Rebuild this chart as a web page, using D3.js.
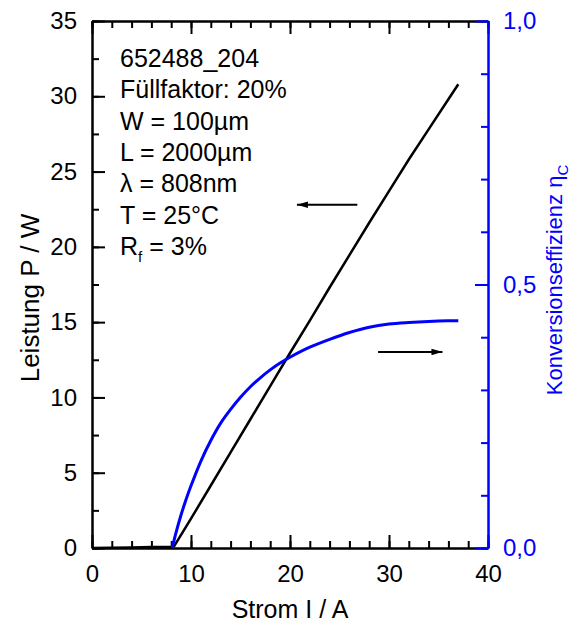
<!DOCTYPE html>
<html lang="en">
<head>
    <meta charset="UTF-8">
    <title>Leistung und Konversionseffizienz</title>
    <style>
        body { margin: 0; background: #fff; }
        text { font-family: "Liberation Sans", Arial, sans-serif; }
    </style>
</head>
<body>
    <div id="chart"></div>

    <script src="https://d3js.org/d3.v7.min.js"></script>

    <script>
        // Strom I / A and optical power P / W (black curve)
        var currentP = [0, 2, 4, 6, 8, 8.3, 10, 12, 14, 16, 18, 20, 22, 24, 26, 28, 30, 32, 34, 36, 37];
        var power    = [0, 0.02, 0.04, 0.06, 0.08, 0.12, 1.95, 4.15, 6.35, 8.55, 10.75, 12.95, 15.1, 17.3, 19.45, 21.6, 23.7, 25.8, 27.8, 29.8, 30.8];

        // Strom I / A and Konversionseffizienz (blue curve)
        var currentEta = [8.1, 8.5, 9, 9.5, 10, 11, 12, 13, 14, 15, 16, 17, 18, 19, 20, 22, 24, 26, 28, 30, 32, 34, 36, 37];
        var eta        = [0, 0.03, 0.063, 0.092, 0.118, 0.165, 0.204, 0.237, 0.263, 0.286, 0.306, 0.323, 0.338, 0.351, 0.362, 0.381, 0.396, 0.409, 0.419, 0.425, 0.428, 0.430, 0.431, 0.431];

        var xTicks = [0, 10, 20, 30, 40];
        var yLeftTicks = [0, 5, 10, 15, 20, 25, 30, 35];
        var yRightTicks = [0, 0.5, 1.0];

        var infoLines = ["652488_204", "Füllfaktor: 20%", "W = 100µm", "L = 2000µm", "λ = 808nm", "T = 25°C"];

        var chartW = 581, chartH = 628;
        var plotLeft = 92, plotRight = 488, plotTop = 21, plotBottom = 548;
        var blue = "#0000ff";
        var fs = 24;

        var svg = d3.select("#chart").append("svg")
                    .attr("width", chartW)
                    .attr("height", chartH);

        var x = d3.scaleLinear().domain([0, 40]).range([plotLeft, plotRight]);
        var yP = d3.scaleLinear().domain([0, 35]).range([plotBottom, plotTop]);
        var yEta = d3.scaleLinear().domain([0, 1]).range([plotBottom, plotTop]);

        var fmtComma = function(d) { return d3.format(".1f")(d).replace(".", ","); };

        // helper to style an axis group
        function styleAxis(g, color) {
            g.select(".domain").attr("stroke", color).attr("stroke-width", 2);
            g.selectAll(".tick line").attr("stroke", color).attr("stroke-width", 2);
            g.selectAll(".tick text").attr("fill", color)
                .style("font-family", "'Liberation Sans', Arial, sans-serif")
                .style("font-size", fs + "px");
        }

        // minor ticks first
        var minorX = svg.append("g").attr("transform", "translate(0," + plotBottom + ")")
            .call(d3.axisBottom(x).tickValues(d3.range(0, 41, 2)).tickSize(-7).tickSizeOuter(0).tickFormat(""));
        styleAxis(minorX, "#000");
        var minorXTop = svg.append("g").attr("transform", "translate(0," + plotTop + ")")
            .call(d3.axisTop(x).tickValues(d3.range(0, 41, 2)).tickSize(-7).tickSizeOuter(0).tickFormat(""));
        styleAxis(minorXTop, "#000");
        var minorY = svg.append("g").attr("transform", "translate(" + plotLeft + ",0)")
            .call(d3.axisLeft(yP).tickValues(d3.range(0, 35.1, 2.5)).tickSize(-7).tickSizeOuter(0).tickFormat(""));
        styleAxis(minorY, "#000");

        // major ticks
        var xAxis = svg.append("g").attr("transform", "translate(0," + plotBottom + ")")
            .call(d3.axisBottom(x).tickValues(xTicks).tickSize(-13).tickSizeOuter(0).tickPadding(17));
        styleAxis(xAxis, "#000");
        var xAxisTop = svg.append("g").attr("transform", "translate(0," + plotTop + ")")
            .call(d3.axisTop(x).tickValues(xTicks).tickSize(-13).tickSizeOuter(0).tickFormat(""));
        styleAxis(xAxisTop, "#000");
        var yAxis = svg.append("g").attr("transform", "translate(" + plotLeft + ",0)")
            .call(d3.axisLeft(yP).tickValues(yLeftTicks).tickSize(-13).tickSizeOuter(0).tickPadding(15));
        styleAxis(yAxis, "#000");

        // curves
        var lineP = d3.line()
            .x(function(d, i) { return x(currentP[i]); })
            .y(function(d) { return yP(d); });
        svg.append("path").datum(power)
            .attr("d", lineP)
            .attr("fill", "none")
            .attr("stroke", "#000")
            .attr("stroke-width", 2.5);

        var lineEta = d3.line()
            .x(function(d, i) { return x(currentEta[i]); })
            .y(function(d) { return yEta(d); })
            .curve(d3.curveCatmullRom.alpha(0.5));
        svg.append("path").datum(eta)
            .attr("d", lineEta)
            .attr("fill", "none")
            .attr("stroke", blue)
            .attr("stroke-width", 3);

        // right axis (blue) on top
        var minorRight = svg.append("g").attr("transform", "translate(" + plotRight + ",0)")
            .call(d3.axisRight(yEta).tickValues(d3.range(0, 1.01, 0.1)).tickSize(-7).tickSizeOuter(0).tickFormat(""));
        styleAxis(minorRight, blue);
        var rightAxis = svg.append("g").attr("transform", "translate(" + plotRight + ",0)")
            .call(d3.axisRight(yEta).tickValues(yRightTicks).tickSize(-13).tickSizeOuter(0).tickPadding(15).tickFormat(fmtComma));
        styleAxis(rightAxis, blue);

        // axis titles
        svg.append("text")
            .attr("x", (plotLeft + plotRight) / 2).attr("y", 618)
            .attr("text-anchor", "middle")
            .style("font-size", "25px")
            .text("Strom I / A");

        svg.append("text")
            .attr("transform", "translate(39,298) rotate(-90)")
            .attr("text-anchor", "middle")
            .style("font-size", "26px")
            .text("Leistung P / W");

        var rt = svg.append("text")
            .attr("transform", "translate(562,280) rotate(-90)")
            .attr("text-anchor", "middle")
            .attr("fill", blue)
            .style("font-size", "22px");
        rt.append("tspan").text("Konversionseffizienz η");
        rt.append("tspan").attr("dy", 6).style("font-size", "15px").text("C");

        // info block
        var info = svg.append("g").attr("transform", "translate(120,0)");
        infoLines.forEach(function(s, i) {
            info.append("text").attr("x", 0).attr("y", 67 + i * 31.3)
                .style("font-size", "25px").text(s);
        });
        var rf = info.append("text").attr("x", 0).attr("y", 67 + 6 * 31.3).style("font-size", "25px");
        rf.append("tspan").text("R");
        rf.append("tspan").attr("dy", 7).style("font-size", "15px").text("f");
        rf.append("tspan").attr("dy", -7).text(" = 3%");

        // arrows
        var defs = svg.append("defs");
        defs.append("marker").attr("id", "head")
            .attr("viewBox", "0 0 10 6").attr("refX", 10).attr("refY", 3)
            .attr("markerWidth", 11).attr("markerHeight", 7)
            .attr("markerUnits", "userSpaceOnUse")
            .attr("orient", "auto")
            .append("path").attr("d", "M0,0 L10,3 L0,6 Z").attr("fill", "#000");

        svg.append("line")
            .attr("x1", x(26.8)).attr("y1", yP(22.8))
            .attr("x2", x(20.7)).attr("y2", yP(22.8))
            .attr("stroke", "#000").attr("stroke-width", 2)
            .attr("marker-end", "url(#head)");
        svg.append("line")
            .attr("x1", x(28.9)).attr("y1", yEta(0.372))
            .attr("x2", x(35.4)).attr("y2", yEta(0.372))
            .attr("stroke", "#000").attr("stroke-width", 2)
            .attr("marker-end", "url(#head)");
    </script>
</body>
</html>
